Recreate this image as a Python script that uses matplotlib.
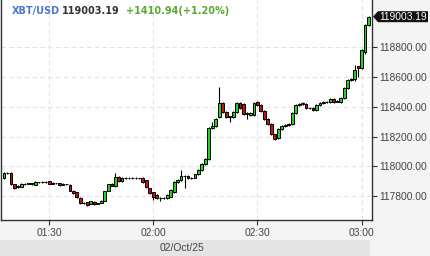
import matplotlib
matplotlib.use("Agg")
import matplotlib.pyplot as plt
import numpy as np
from matplotlib.patches import Rectangle, Polygon

# ---- data (1-minute candles, 01:17 .. 03:02) ----
start_minute = 77  # minutes after 00:00 -> 01:17
opens = [117920, 117955, 117958, 117880, 117860, 117865, 117884, 117882, 117886, 117878,
         117895, 117893, 117896, 117902, 117884, 117889, 117889, 117876, 117882, 117875,
         117838, 117828, 117788, 117755, 117761, 117748, 117762, 117750, 117755, 117768,
         117835, 117882, 117869, 117929, 117902, 117922, 117920, 117923, 117921, 117922,
         117922, 117909, 117855, 117828, 117808, 117790, 117786, 117788, 117795, 117828,
         117895, 117909, 117936, 117936, 117922, 117925, 117949, 117976, 118016, 118050,
         118257, 118271, 118331, 118425, 118365, 118331, 118331, 118365, 118425, 118418,
         118351, 118344, 118344, 118432, 118411, 118371, 118318, 118284, 118217, 118190,
         118251, 118271, 118277, 118284, 118358, 118411, 118418, 118418, 118391, 118391,
         118378, 118411, 118425, 118432, 118432, 118452, 118432, 118432, 118458, 118525,
         118579, 118585, 118673, 118659, 118766, 118947]
highs = [117962, 117965, 117962, 117882, 117876, 117888, 117888, 117890, 117889, 117899,
         117898, 117904, 117899, 117905, 117893, 117892, 117892, 117888, 117885, 117880,
         117842, 117830, 117792, 117762, 117764, 117771, 117765, 117756, 117772, 117838,
         117885, 117886, 117955, 117935, 117926, 117926, 117928, 117926, 117930, 117925,
         117926, 117912, 117858, 117831, 117812, 117794, 117795, 117812, 117846, 117899,
         117915, 117976, 117942, 117940, 117930, 117952, 117980, 118020, 118055, 118262,
         118300, 118322, 118532, 118430, 118370, 118340, 118370, 118430, 118432, 118422,
         118362, 118362, 118430, 118440, 118415, 118375, 118322, 118288, 118220, 118255,
         118276, 118282, 118290, 118362, 118415, 118422, 118430, 118422, 118396, 118396,
         118415, 118430, 118438, 118438, 118456, 118456, 118445, 118462, 118530, 118585,
         118592, 118680, 118676, 118785, 118952, 119008]
lows = [117915, 117950, 117875, 117848, 117856, 117862, 117878, 117879, 117878, 117874,
        117889, 117890, 117890, 117881, 117883, 117884, 117871, 117873, 117876, 117832,
        117818, 117790, 117750, 117746, 117738, 117745, 117744, 117746, 117752, 117765,
        117832, 117866, 117865, 117898, 117898, 117916, 117917, 117916, 117918, 117916,
        117892, 117858, 117818, 117775, 117782, 117770, 117782, 117785, 117792, 117825,
        117890, 117905, 117855, 117918, 117918, 117922, 117945, 117972, 118012, 118045,
        118250, 118266, 118325, 118360, 118325, 118298, 118325, 118360, 118385, 118345,
        118318, 118340, 118340, 118405, 118365, 118312, 118278, 118210, 118178, 118185,
        118246, 118266, 118272, 118280, 118352, 118406, 118412, 118385, 118385, 118372,
        118374, 118406, 118420, 118425, 118428, 118428, 118430, 118428, 118452, 118520,
        118574, 118575, 118600, 118654, 118755, 118940]
closes = [117955, 117958, 117880, 117855, 117872, 117884, 117882, 117886, 117883, 117895,
          117893, 117896, 117894, 117884, 117889, 117887, 117874, 117882, 117880, 117838,
          117825, 117795, 117755, 117758, 117741, 117768, 117748, 117752, 117768, 117835,
          117882, 117870, 117929, 117902, 117922, 117920, 117923, 117921, 117922, 117920,
          117895, 117862, 117822, 117795, 117788, 117786, 117790, 117808, 117842, 117895,
          117909, 117936, 117938, 117922, 117925, 117949, 117976, 118016, 118050, 118257,
          118271, 118318, 118425, 118365, 118331, 118335, 118365, 118425, 118391, 118351,
          118355, 118358, 118425, 118411, 118371, 118318, 118284, 118217, 118184, 118251,
          118271, 118277, 118284, 118358, 118411, 118418, 118425, 118391, 118390, 118378,
          118411, 118425, 118432, 118430, 118452, 118432, 118438, 118458, 118525, 118579,
          118585, 118646, 118659, 118780, 118947, 119003.19]

last_price = 119003.19
symbol = "XBT/USD"
change_text = "+1410.94(+1.20%)"
date_label = "02/Oct/25"
y_ticks = [117800, 118000, 118200, 118400, 118600, 118800]
x_ticks = [90, 120, 150, 180]  # minutes after 00:00
x_tick_labels = ["01:30", "02:00", "02:30", "03:00"]

# ---- figure ----
W, H = 430, 256
fig = plt.figure(figsize=(W / 100, H / 100), dpi=100, facecolor="#f4f4f4")
ax_l, ax_r, ax_t, ax_b = 1, 372, 0, 220
ax = fig.add_axes([ax_l / W, (H - ax_b) / H, (ax_r - ax_l) / W, (ax_b - ax_t) / H])
ax.set_facecolor("white")

# bottom date band
fig.patches.append(Rectangle((0, 0), 370 / W, 16 / H, transform=fig.transFigure,
                             facecolor="#e4e4e4", edgecolor="none", zorder=0))

t = np.arange(len(closes)) + start_minute
o = np.array(opens, float); c = np.array(closes, float)
h = np.array(highs, float); l = np.array(lows, float)
up = c >= o
green, red = "#22d322", "#c81010"

ax.vlines(t, l, h, color="black", linewidth=0.8, zorder=2)
bottoms = np.minimum(o, c)
heights = np.maximum(np.abs(c - o), 1.0)
ax.bar(t, heights, bottom=bottoms, width=0.82,
       color=np.where(up, green, red), edgecolor="black", linewidth=0.7, zorder=3)

# axes limits (pixel calibrated)
ax.set_xlim(start_minute - 0.864, start_minute + 106.0)
ax.set_ylim(117641, 119115)

ax.spines["top"].set_visible(False)
for s in ["left", "bottom", "right"]:
    ax.spines[s].set_color("#333333")
    ax.spines[s].set_linewidth(1.0)

ax.yaxis.tick_right()
ax.set_yticks(y_ticks)
ax.set_yticklabels([f"{v:.2f}" for v in y_ticks])
ax.set_xticks(x_ticks)
ax.set_xticklabels(x_tick_labels)
ax.tick_params(axis="both", direction="out", length=3.5, width=0.8, color="#333333",
               labelcolor="#444444", labelsize=7.4, pad=2)
for lab in ax.get_xticklabels() + ax.get_yticklabels():
    lab.set_fontfamily("Liberation Sans")
ax.tick_params(axis="x", pad=2)
ax.grid(True, color="#e2e2e2", linestyle=(0, (4, 3)), linewidth=0.8, zorder=0)
ax.set_axisbelow(True)

# last price tag
y_px = ax.transData.transform((0, last_price))[1]
fig_y = y_px / fig.dpi / fig.get_figheight()
tag_h = 11 / H
x0 = 373 / W; xa = 378 / W; x1 = 428 / W
fig.patches.append(Polygon([[x0, fig_y], [xa, fig_y + tag_h / 2], [x1, fig_y + tag_h / 2],
                            [x1, fig_y - tag_h / 2], [xa, fig_y - tag_h / 2]],
                           closed=True, transform=fig.transFigure, facecolor="#111111",
                           edgecolor="none", zorder=5))
fig.text(403 / W, fig_y, f"{last_price:.2f}", color="white", fontsize=7.4,
         family="Liberation Sans", ha="center", va="center", zorder=6)

# title
ty = 1 - 11 / H
fig.text(12 / W, ty, symbol, color="#4a78d0", fontsize=7, fontweight="bold",
         family="DejaVu Sans", va="center")
fig.text(62 / W, ty, f"{last_price:.2f}", color="#333333", fontsize=7, fontweight="bold",
         family="DejaVu Sans", va="center")
fig.text(126 / W, ty, change_text, color="#5aa832", fontsize=7, fontweight="bold",
         family="DejaVu Sans", va="center")

# date label
fig.text(182 / W, 8 / H, date_label, color="#444444", fontsize=7.4,
         family="Liberation Sans", ha="center", va="center")

fig.savefig("out.png", dpi=100, facecolor=fig.get_facecolor())
